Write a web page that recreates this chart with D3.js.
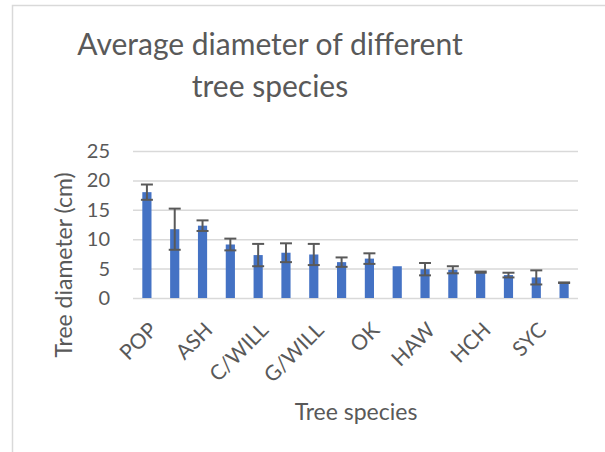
<!DOCTYPE html>
<html>
<head>
<meta charset="utf-8">
<script src="https://cdn.jsdelivr.net/npm/d3@7"></script>
<style>
  body { margin: 0; background: #fff; }
  text { font-family: Lato, "Open Sans", sans-serif; fill: #595959; }
  .axis path { display: none; }
  .y-axis line { stroke: #d9d9d9; stroke-width: 1.5; }
  .x-axis line { display: none; }
</style>
</head>
<body>
<div id="chart"></div>
<script>
// every other label is skipped on the axis, as in the original
const categories = ["POP", "", "ASH", "", "C/WILL", "", "G/WILL", "", "OK", "", "HAW", "", "HCH", "", "SYC", ""];
const means = [18.0, 11.7, 12.3, 9.1, 7.3, 7.7, 7.4, 6.1, 6.7, 5.4, 4.9, 4.8, 4.4, 3.9, 3.5, 2.6];
const errors = [1.3, 3.5, 0.9, 1.0, 1.9, 1.6, 1.8, 0.8, 0.9, 0, 1.05, 0.6, 0.1, 0.4, 1.2, 0.05];
const yTicks = [0, 5, 10, 15, 20, 25];

const width = 605, height = 452;
const margin = { top: 151, right: 27, bottom: 154, left: 133 };
const innerW = width - margin.left - margin.right;
const innerH = height - margin.top - margin.bottom;

const svg = d3.select("#chart").append("svg")
  .attr("width", width)
  .attr("height", height);

// chart area border (runs off the right and bottom edge)
svg.append("rect")
  .attr("x", 12.5).attr("y", 5.5)
  .attr("width", 700).attr("height", 600)
  .attr("fill", "none")
  .attr("stroke", "#d9d9d9")
  .attr("stroke-width", 1.5);

const plot = svg.append("g").attr("transform", `translate(${margin.left},${margin.top})`);

const x = d3.scaleBand()
  .domain(d3.range(categories.length))
  .range([0, innerW])
  .paddingInner(0.67)
  .paddingOuter(0.335);

const y = d3.scaleLinear().domain([0, 25]).range([innerH, 0]);

plot.append("g").attr("class", "axis y-axis")
  .call(d3.axisLeft(y).tickValues(yTicks).tickSize(-innerW).tickPadding(23))
  .call(g => g.selectAll("text").attr("font-size", 20));

plot.selectAll(".bar")
  .data(means)
  .join("rect")
  .attr("class", "bar")
  .attr("x", (d, i) => x(i))
  .attr("y", d => y(d))
  .attr("width", x.bandwidth())
  .attr("height", d => innerH - y(d))
  .attr("fill", "#4472c4");

// error bars
const eb = plot.selectAll(".err")
  .data(means.map((m, i) => ({ i, m, e: errors[i] })).filter(d => d.e > 0))
  .join("g")
  .attr("class", "err")
  .attr("stroke", "#595959")
  .attr("stroke-width", 2);

const cx = d => x(d.i) + x.bandwidth() / 2;
eb.append("line")
  .attr("x1", cx).attr("x2", cx)
  .attr("y1", d => y(d.m + d.e)).attr("y2", d => y(d.m - d.e));
eb.append("line")
  .attr("x1", d => cx(d) - 6).attr("x2", d => cx(d) + 6)
  .attr("y1", d => y(d.m + d.e)).attr("y2", d => y(d.m + d.e));
eb.append("line")
  .attr("x1", d => cx(d) - 6).attr("x2", d => cx(d) + 6)
  .attr("y1", d => y(d.m - d.e)).attr("y2", d => y(d.m - d.e));

plot.append("g").attr("class", "axis x-axis")
  .attr("transform", `translate(0,${innerH})`)
  .call(d3.axisBottom(x).tickFormat(i => categories[i]).tickSize(0).tickPadding(0))
  .call(g => g.selectAll("text")
    .attr("font-size", 21)
    .attr("text-anchor", "end")
    .attr("transform", "translate(1,23) rotate(-45)")
    .attr("y", 0)
    .attr("dy", "0.7em"));

// titles
svg.append("text")
  .attr("x", 270).attr("y", 55)
  .attr("text-anchor", "middle")
  .attr("font-size", 30)
  .selectAll("tspan")
  .data(["Average diameter of different", "tree species"])
  .join("tspan")
  .attr("x", 270)
  .attr("dy", (d, i) => i ? 42 : 0)
  .text(d => d);

svg.append("text")
  .attr("transform", "translate(72,265) rotate(-90)")
  .attr("text-anchor", "middle")
  .attr("font-size", 23)
  .text("Tree diameter (cm)");

svg.append("text")
  .attr("x", 356).attr("y", 420)
  .attr("text-anchor", "middle")
  .attr("font-size", 23)
  .text("Tree species");
</script>
</body>
</html>
